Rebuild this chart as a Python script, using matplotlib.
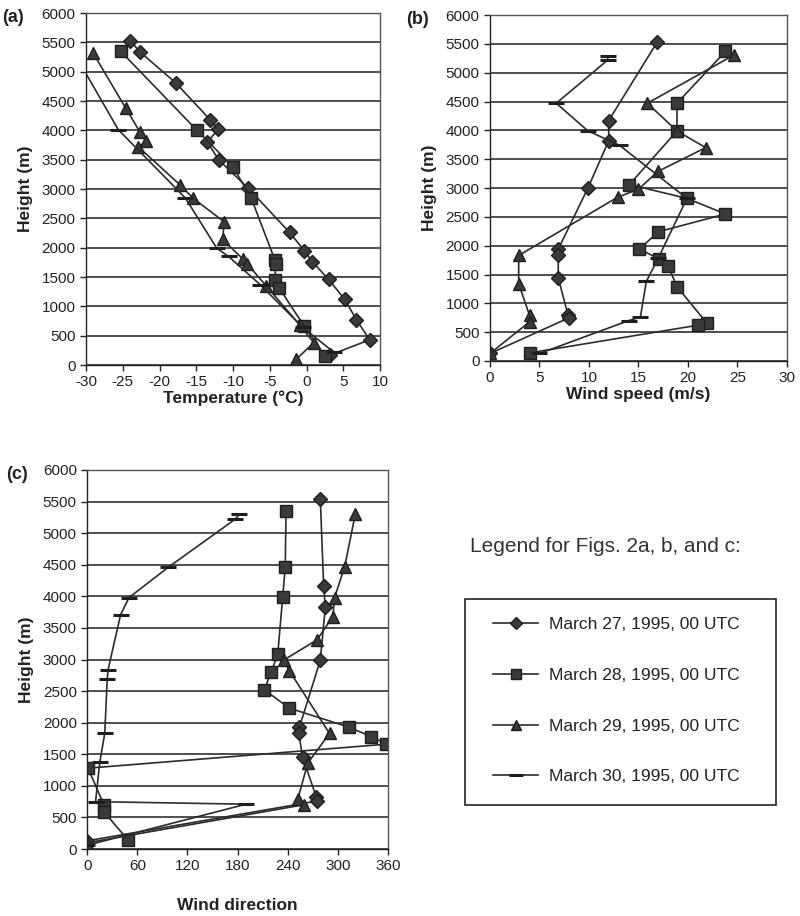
import numpy as np
import matplotlib
matplotlib.use("Agg")
import matplotlib.pyplot as plt
from matplotlib.lines import Line2D
from matplotlib.patches import Rectangle

# ---- data ----
labels = ["March 27, 1995, 00 UTC", "March 28, 1995, 00 UTC",
          "March 29, 1995, 00 UTC", "March 30, 1995, 00 UTC"]

# (a) temperature (deg C) vs height (m)
temp_h27 = [5530, 5330, 4810, 4180, 4020, 3800, 3490, 3010, 2260, 1950, 1760, 1460, 1120, 770, 430, 170]
temp_27 = [-24.0, -22.6, -17.8, -13.1, -12.0, -13.5, -11.9, -7.9, -2.3, -0.3, 0.8, 3.0, 5.2, 6.8, 8.6, 3.2]
temp_h28 = [5350, 4000, 3380, 2840, 1790, 1720, 1450, 1310, 660, 150]
temp_28 = [-25.3, -14.9, -10.0, -7.5, -4.3, -4.2, -4.3, -3.7, -0.3, 2.5]
temp_h29 = [5310, 4380, 3980, 3810, 3720, 3070, 2840, 2440, 2140, 1800, 1730, 1350, 680, 380, 100]
temp_29 = [-29.0, -24.6, -22.7, -21.8, -22.9, -17.2, -15.4, -11.2, -11.4, -8.6, -8.1, -5.5, -0.9, 1.0, -1.4]
temp_h30 = [5250, 4010, 2850, 1990, 1850, 1370, 640, 220]
temp_30 = [-31.3, -25.6, -16.5, -12.2, -10.6, -6.3, -0.5, 3.7]

# (b) wind speed (m/s) vs height (m)
ws_h27 = [5530, 4170, 3820, 3000, 1940, 1840, 1440, 790, 750, 130]
ws_27 = [16.9, 12.0, 12.0, 9.9, 6.9, 6.9, 6.9, 7.9, 8.0, 0.0]
ws_h28 = [5370, 4470, 3990, 3060, 2820, 2550, 2240, 1940, 1770, 1650, 1290, 660, 620, 140]
ws_28 = [23.8, 18.9, 18.9, 14.1, 19.9, 23.8, 17.0, 15.1, 17.1, 18.0, 18.9, 21.9, 21.0, 4.0]
ws_h29 = [5310, 4470, 3990, 3700, 3290, 2980, 2840, 1830, 1340, 790, 680, 130]
ws_29 = [24.7, 15.9, 18.9, 21.8, 17.0, 15.0, 12.9, 2.9, 2.9, 4.0, 4.0, 0.0]
ws_h30 = [5290, 5220, 4470, 3990, 3740, 2820, 1780, 1380, 760, 700, 130]
ws_30 = [11.9, 11.9, 6.7, 9.9, 13.1, 19.9, 17.0, 15.8, 15.2, 14.0, 5.0]

# (c) wind direction (deg) vs height (m)
wd_h27 = [5540, 4160, 3830, 2990, 1930, 1840, 1450, 830, 760, 130]
wd_27 = [279, 283, 285, 279, 254, 253, 258, 274, 275, 0]
wd_h28 = [5350, 4460, 3990, 3080, 2800, 2520, 2230, 1930, 1780, 1660, 1280, 700, 590, 140]
wd_28 = [238, 237, 234, 228, 220, 212, 242, 313, 340, 358, 1, 20, 20, 49]
wd_h29 = [5310, 4460, 3980, 3680, 3310, 2990, 2820, 1830, 1360, 790, 700, 100]
wd_29 = [321, 308, 296, 294, 275, 235, 242, 290, 264, 252, 259, 0]
wd_h30 = [5300, 5220, 4460, 3980, 3710, 2840, 2690, 1830, 1370, 750, 710, 60]
wd_30 = [182, 177, 97, 50, 40, 25, 24, 21, 15, 10, 190, 0]

plt.rcParams['font.family'] = ["Liberation Sans", "DejaVu Sans"]
plt.rcParams['axes.unicode_minus'] = False

line_col = "#2b2b2b"
mark_col = "#3a3a3a"
grid_col = "#404040"
styles = [dict(marker="D", ms=7.5), dict(marker="s", ms=8),
          dict(marker="^", ms=8), dict(marker="_", ms=11, mew=2.2)]


def draw_series(ax, xs, hs, st):
    kw = dict(color=line_col, lw=1.2, mfc=mark_col, mec="#1e1e1e", mew=1.0)
    kw.update(st)
    ax.plot(xs, hs, clip_on=True, **kw)


def style_axes(ax, xlim, xticks, xlabel, xpad):
    ax.set_xlim(*xlim)
    ax.set_ylim(0, 6000)
    ax.set_yticks(np.arange(0, 6001, 500))
    ax.set_xticks(xticks)
    ax.yaxis.grid(True, color=grid_col, lw=1.3)
    ax.set_axisbelow(True)
    for s in ax.spines.values():
        s.set_color("#555555")
        s.set_linewidth(1.0)
    ax.spines["left"].set_color("#222222")
    ax.spines["bottom"].set_color("#222222")
    ax.tick_params(direction="out", length=4, width=1.0, colors="#222222",
                   labelsize=11, labelcolor="#222222")
    ax.set_xlabel(xlabel, fontsize=12.5, fontweight="bold", color="#222222", labelpad=xpad)
    ax.set_ylabel("Height (m)", fontsize=12.5, fontweight="bold", color="#222222", labelpad=6)


fig = plt.figure(figsize=(8, 9.16), dpi=100)

# (a)
ax_a = fig.add_axes([0.1075, 0.6015, 0.3675, 0.3843])
for xs, hs, st in zip([temp_27, temp_28, temp_29, temp_30],
                      [temp_h27, temp_h28, temp_h29, temp_h30], styles):
    draw_series(ax_a, xs, hs, st)
style_axes(ax_a, (-30, 10), np.arange(-30, 11, 5), "Temperature (°C)", 1)

# (b)
ax_b = fig.add_axes([0.6125, 0.6059, 0.371, 0.3777])
for xs, hs, st in zip([ws_27, ws_28, ws_29, ws_30],
                      [ws_h27, ws_h28, ws_h29, ws_h30], styles):
    draw_series(ax_b, xs, hs, st)
style_axes(ax_b, (0, 30), np.arange(0, 31, 5), "Wind speed (m/s)", 1)

# (c)
ax_c = fig.add_axes([0.109, 0.0731, 0.376, 0.4138])
for xs, hs, st in zip([wd_27, wd_28, wd_29, wd_30],
                      [wd_h27, wd_h28, wd_h29, wd_h30], styles):
    draw_series(ax_c, xs, hs, st)
style_axes(ax_c, (0, 360), np.arange(0, 361, 60), "Wind direction", 18)

# panel tags
fig.text(0.003, 1 - 17 / 916, "(a)", fontsize=13, fontweight="bold", va="center", color="#222222")
fig.text(0.508, 1 - 19 / 916, "(b)", fontsize=13, fontweight="bold", va="center", color="#222222")
fig.text(0.008, 1 - 474 / 916, "(c)", fontsize=13, fontweight="bold", va="center", color="#222222")

# shared legend
fig.text(470 / 800, 1 - 547 / 916, "Legend for Figs. 2a, b, and c:", fontsize=15,
         va="center", ha="left", color="#333333")
fig.patches.append(Rectangle((465 / 800, 1 - 805 / 916), 311 / 800, 206 / 916,
                             transform=fig.transFigure, fill=False,
                             edgecolor="#222222", lw=1.2))
handles = [Line2D([], [], color=line_col, lw=1.2, mfc=mark_col, mec="#1e1e1e",
                  **dict(st, ms=st.get("ms", 7) - 1.5)) for st in styles]
leg = fig.legend(handles, labels, loc="upper left", bbox_to_anchor=(493 / 800, 1 - 617 / 916),
                 frameon=False, fontsize=12.5, labelspacing=2.05, borderpad=0,
                 handlelength=2.6, handletextpad=0.6, borderaxespad=0)
for t in leg.get_texts():
    t.set_color("#222222")

fig.savefig("out.png", dpi=100, facecolor="white")
